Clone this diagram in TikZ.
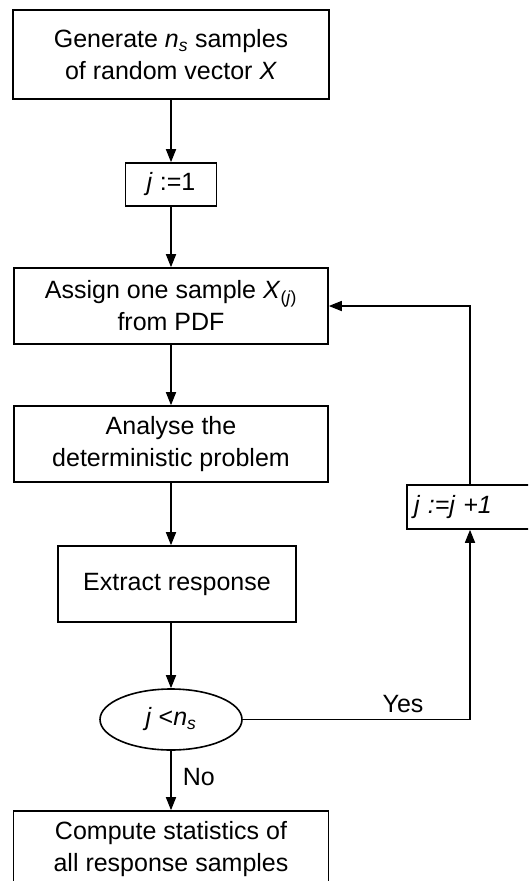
\documentclass[tikz,border=0pt]{standalone}
\usepackage{fontspec}
\setmainfont{Liberation Sans}
\usetikzlibrary{arrows.meta,shapes.geometric}
\begin{document}
\begin{tikzpicture}[x=1pt, y=-1pt, line width=1.6pt, >={Triangle[length=13pt,width=10pt]},
	blk/.style={draw, rectangle, inner sep=0pt, align=center, font=\fontsize{25}{32}\selectfont},
	test/.style={draw, ellipse, inner sep=0pt, font=\fontsize{25}{32}\selectfont},
	lbl/.style={inner sep=0pt, font=\fontsize{25}{32}\selectfont}]
	\useasboundingbox (0,0) rectangle (528,881);
	\clip (0,0) rectangle (528,881);

	\node[blk, minimum width=316, minimum height=89] (gen) at (171,54.5) {Generate \textit{n}\textsubscript{\textit{s}} samples\\of random vector \textit{X}};
	\node[blk, minimum width=91, minimum height=43] (init) at (171,184.5) {\textit{j} :=1};
	\node[blk, minimum width=314, minimum height=76] (assign) at (171,306) {Assign one sample \textit{X}\textsubscript{(\textit{j})}\\from PDF};
	\node[blk, minimum width=314, minimum height=76] (analyse) at (171,444) {Analyse the\\deterministic problem};
	\node[blk, minimum width=238, minimum height=76] (extract) at (177,584) {Extract response};
	\node[test, minimum width=142, minimum height=61] (cond) at (171,719.5) {\textit{j} <\textit{n}\textsubscript{\textit{s}}};
	\node[blk, minimum width=315, minimum height=76] (stats) at (171,849) {Compute statistics of\\all response samples};
	\node[blk, minimum width=126, minimum height=44, text width=112, align=left] (incr) at (470,507) {\textit{j :=j +1}};

	\draw[->] (gen.south) -- (init.north);
	\draw[->] (init.south) -- (assign.north);
	\draw[->] (assign.south) -- (analyse.north);
	\draw[->] (analyse.south) -- (analyse.south |- extract.north);
	\draw[->] (extract.south -| cond.north) -- (cond.north);
	\draw[->] (cond.south) -- (stats.north);
	\draw[->] (cond.east) -| (incr.south);
	\draw[->] (incr.north) |- (assign.east);

	\node[lbl] (yes) at (403,704) {Yes};
	\node[lbl, anchor=west] (no) at (182,777) {No};
\end{tikzpicture}
\end{document}
